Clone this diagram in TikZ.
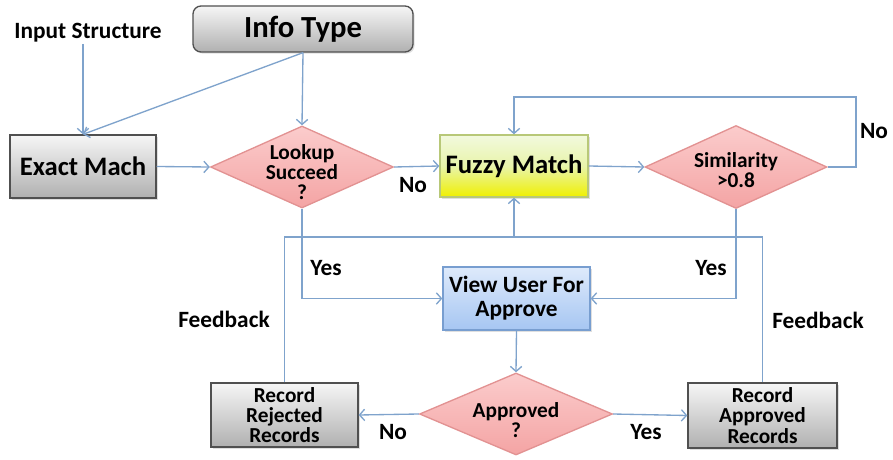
\documentclass[tikz,border=0pt]{standalone}
\usepackage{fontspec}
\setmainfont{Carlito}
\usetikzlibrary{shapes.geometric,arrows.meta,shadows}

\definecolor{linkblue}{RGB}{127,163,204}
\definecolor{grayedge}{RGB}{80,80,80}
\definecolor{graytop}{RGB}{246,246,246}
\definecolor{graybot}{RGB}{176,176,176}
\definecolor{pinkedge}{RGB}{226,146,146}
\definecolor{pinktop}{RGB}{251,204,204}
\definecolor{pinkbot}{RGB}{244,164,164}
\definecolor{fuzzyedge}{RGB}{184,200,120}
\definecolor{fuzzytop}{RGB}{242,249,222}
\definecolor{fuzzymid}{RGB}{232,244,170}
\definecolor{fuzzybot}{RGB}{240,240,0}
\definecolor{viewedge}{RGB}{120,158,208}
\definecolor{viewtop}{RGB}{222,234,251}
\definecolor{viewbot}{RGB}{166,198,242}

\tikzset{every picture/.style={line width=0.75pt}}
\tikzset{
  flow/.style={draw=linkblue, line width=1pt},
  flowarrow/.style={flow, -{Straight Barb[length=3.8pt,width=8.5pt]}},
  softshadow/.style={drop shadow={opacity=0.25, shadow xshift=1.2pt, shadow yshift=-1.2pt}},
  graybox/.style={draw=grayedge, line width=1pt, top color=graytop, bottom color=graybot, softshadow, inner sep=0pt, align=center},
  fuzzybox/.style={draw=fuzzyedge, line width=1pt, top color=fuzzytop, bottom color=fuzzybot, middle color=fuzzymid, softshadow, inner sep=0pt, align=center},
  viewbox/.style={draw=viewedge, line width=1pt, top color=viewtop, bottom color=viewbot, softshadow, inner sep=0pt, align=center},
  decision/.style={shape=diamond, draw=pinkedge, line width=1pt, top color=pinktop, bottom color=pinkbot, inner sep=0pt},
  bigtext/.style={font=\fontsize{23}{24}\selectfont\bfseries},
  midtext/.style={font=\fontsize{20}{21}\selectfont\bfseries},
  viewtext/.style={font=\fontsize{17.5}{18}\selectfont\bfseries, align=center},
  smalltext/.style={font=\fontsize{16}{15.3}\selectfont\bfseries, align=center},
  labeltext/.style={font=\fontsize{17.5}{18}\selectfont\bfseries, inner sep=0.75pt},
}

\begin{document}
\begin{tikzpicture}[x=0.75pt,y=0.75pt,yscale=-1,xscale=1]
\path[use as bounding box] (0,0) rectangle (893,460);

%Shape: Rounded Rect [id:info]
\node[graybox, rounded corners=6pt, minimum width=165pt, minimum height=34.5pt, bigtext] (info) at (303,29) {Info Type};
% Text Node
\node[labeltext] (input) at (88,33) {Input Structure};
%Shape: Rectangle [id:exact]
\node[graybox, minimum width=109.5pt, minimum height=47.25pt, midtext] (exact) at (83,166.5) {Exact Mach};
%Shape: Diamond [id:lookup]
\node[decision, minimum width=137.25pt, minimum height=61.5pt] (lookup) at (302,167) {};
\node[smalltext] (lookuptxt) at (302,172) {Lookup\\Succeed\\?};
%Shape: Rectangle [id:fuzzy]
\node[fuzzybox, minimum width=111pt, minimum height=46.5pt, midtext] (fuzzy) at (514,166) {Fuzzy Match};
%Shape: Diamond [id:sim]
\node[decision, minimum width=136.5pt, minimum height=62.25pt] (sim) at (736,167) {};
\node[smalltext] (simtxt) at (736,170) {Similarity\\>0.8};
%Shape: Rectangle [id:view]
\node[viewbox, minimum width=110.25pt, minimum height=47.25pt, viewtext] (view) at (516.5,298.5) {View User For\\Approve};
%Shape: Diamond [id:approved]
\node[decision, minimum width=144.75pt, minimum height=61.5pt] (approved) at (516,414) {};
\node[smalltext] (approvedtxt) at (516,420) {Approved\\?};
%Shape: Rectangle [id:rej]
\node[graybox, minimum width=110.25pt, minimum height=48pt, smalltext] (rej) at (284.5,415) {Record\\Rejected\\Records};
%Shape: Rectangle [id:appr]
\node[graybox, minimum width=111.75pt, minimum height=48.75pt, smalltext] (appr) at (762.5,415.5) {Record\\Approved\\Records};

\coordinate (loop) at (856,97);
\coordinate (fb) at (514,237);

%Connectors
\draw[flowarrow] (input.south -| exact.north) -- (exact.north);
\draw[flowarrow] (info.south) -- (exact.north);
\draw[flowarrow] (info.south) -- (lookup.north);
\draw[flowarrow] (exact.east) -- (lookup.west);
\draw[flowarrow] (lookup.east) -- (fuzzy.west);
\draw[flowarrow] (fuzzy.east) -- (sim.west);
\draw[flowarrow] (sim.east) -| (loop) -| (fuzzy.north);
\draw[flowarrow] (lookup.south) |- (view.west);
\draw[flowarrow] (sim.south) |- (view.east);
\draw[flowarrow] (view.south) -- (approved.north);
\draw[flowarrow] (approved.west) -- (rej.east);
\draw[flowarrow] (approved.east) -- (appr.west);
\draw[flow] (rej.north) |- (fb) -| (appr.north);
\draw[flowarrow] (fb) -- (fuzzy.south);

% Text Node
\node[labeltext] (nolookup) at (413,185) {No};
% Text Node
\node[labeltext] (nosim) at (874,131) {No};
% Text Node
\node[labeltext] (yeslookup) at (326,268) {Yes};
% Text Node
\node[labeltext] (yessim) at (711,268) {Yes};
% Text Node
\node[labeltext] (fbleft) at (224,319) {Feedback};
% Text Node
\node[labeltext] (fbright) at (818,320) {Feedback};
% Text Node
\node[labeltext] (noappr) at (393,432) {No};
% Text Node
\node[labeltext] (yesappr) at (646,432) {Yes};
\end{tikzpicture}
\end{document}
